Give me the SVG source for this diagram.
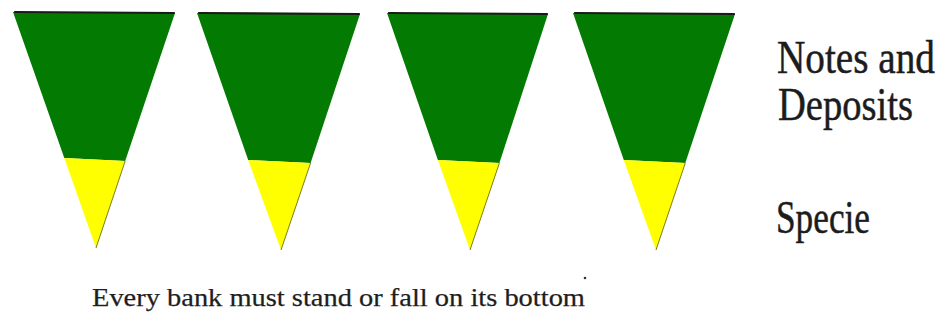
<svg xmlns="http://www.w3.org/2000/svg" width="946" height="320" viewBox="0 0 946 320">
<style>
.g{fill:#037b03}
.y{fill:#ffff00}
.top{stroke:#1a1a1a;stroke-width:2.2;stroke-linecap:round}
.edge{stroke:#5a5a00;stroke-width:0.8;fill:none}
.lbl{font-family:"Liberation Serif","Times New Roman",serif;font-size:39px;fill:#1c1c1c;stroke:#1c1c1c;stroke-width:0.4}
.cap{font-family:"Liberation Serif","Times New Roman",serif;fill:#1e1e1e;stroke:#1e1e1e;stroke-width:0.25}
</style>
<rect width="946" height="320" fill="#ffffff"/>
<g id="bank1">
<polygon class="g" points="13,12 175,13 125.2,161 64.3,158"/>
<polygon class="y" points="64.3,158 125.2,161 96,248"/>
<polyline class="edge" points="125.2,161 96,248"/>
<line class="top" x1="15" y1="12" x2="174" y2="13"/>
</g>
<g id="bank2">
<polygon class="g" points="197,13 360,14 310.6,163 248.2,160"/>
<polygon class="y" points="248.2,160 310.6,163 281,250"/>
<polyline class="edge" points="310.6,163 281,250"/>
<line class="top" x1="199" y1="13" x2="359" y2="14"/>
</g>
<g id="bank3">
<polygon class="g" points="387,13 548,14 499.4,163 437.9,160"/>
<polygon class="y" points="437.9,160 499.4,163 470,250"/>
<polyline class="edge" points="499.4,163 470,250"/>
<line class="top" x1="389" y1="13" x2="547" y2="14"/>
</g>
<g id="bank4">
<polygon class="g" points="573,13 735,14 685.3,163 623.8,160"/>
<polygon class="y" points="623.8,160 685.3,163 656,250"/>
<polyline class="edge" points="685.3,163 656,250"/>
<line class="top" x1="575" y1="13" x2="734" y2="14"/>
</g>
<g id="legend">
<text class="lbl" transform="translate(777,73) scale(1,1.18)" textLength="158" lengthAdjust="spacingAndGlyphs">Notes and</text>
<text class="lbl" transform="translate(778,120) scale(1,1.18)" textLength="135" lengthAdjust="spacingAndGlyphs">Deposits</text>
<text class="lbl" transform="translate(776,233) scale(1,1.18)" textLength="94" lengthAdjust="spacingAndGlyphs">Specie</text>
</g>
<g id="caption">
<text class="cap" x="92" y="306" font-size="26" textLength="493" lengthAdjust="spacingAndGlyphs">Every bank must stand or fall on its bottom</text>
<circle cx="585" cy="278" r="1.3" fill="#333"/>
</g>
</svg>
